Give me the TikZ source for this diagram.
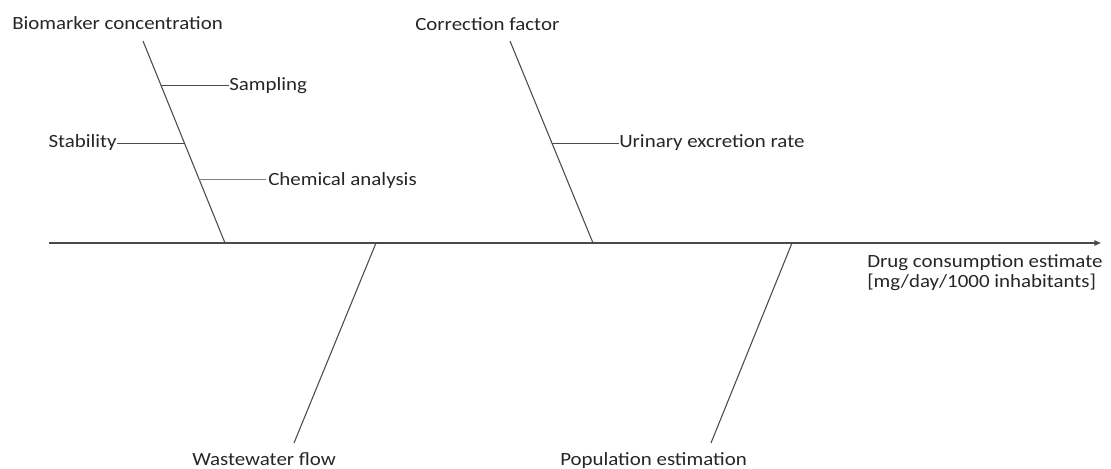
\documentclass[tikz,border=0pt]{standalone}
\usepackage{fontspec}
\setmainfont{Carlito}[FakeStretch=1.12]
\usetikzlibrary{arrows.meta,calc}
\definecolor{linegray}{HTML}{4A4A4A}
\definecolor{txt}{HTML}{262626}
\begin{document}
\begin{tikzpicture}[x=0.75pt,y=-0.75pt,
  lbl/.style={inner sep=0pt,text=txt,font=\fontsize{14}{15}\selectfont},
  bone/.style={draw=linegray,line width=0.8pt},
  sub/.style={draw=linegray,line width=0.7pt},
  spine/.style={draw=linegray,line width=1.1pt}]
\useasboundingbox (0,0) rectangle (1111,468);
% main spine
\coordinate (mstart) at (49,243);
\coordinate (mend) at (1101,243);
\draw[spine,-{Triangle[length=5pt,width=4pt]}] (mstart) -- (mend);
% labels
\node[lbl,anchor=base west] (bio) at (12,29) {Biomarker concentration};
\node[lbl,anchor=base west] (corr) at (415,30) {Correction factor};
\node[lbl,anchor=base west] (samp) at (229,90) {Sampling};
\node[lbl,anchor=base east] (stab) at (117,147) {Stability};
\node[lbl,anchor=base west] (chem) at (268,185) {Chemical analysis};
\node[lbl,anchor=base west] (urin) at (619,147) {Urinary excretion rate};
\node[lbl,anchor=base west] (waste) at (192,465) {Wastewater flow};
\node[lbl,anchor=base west] (pop) at (560,465) {Population estimation};
\node[lbl,anchor=base west,align=left] (drug) at (867,287) {Drug consumption estimate\\[0pt][mg/day/1000 inhabitants]};
% bones
\coordinate (b1t) at (143,41); \coordinate (b1b) at (225,243);
\coordinate (b2t) at (510,41); \coordinate (b2b) at (593,243);
\coordinate (b3t) at (376,243); \coordinate (b3b) at (294,443);
\coordinate (b4t) at (792,243); \coordinate (b4b) at (711,443);
\draw[bone] (b1t) -- (b1b);
\draw[bone] (b2t) -- (b2b);
\draw[bone] (b3t) -- (b3b);
\draw[bone] (b4t) -- (b4b);
% sub-branches
\coordinate (s1) at ($(b1t)!0.218!(b1b)$);
\coordinate (s2) at ($(b1t)!0.505!(b1b)$);
\coordinate (s3) at ($(b1t)!0.683!(b1b)$);
\coordinate (s4) at ($(b2t)!0.505!(b2b)$);
\draw[sub] (s1) -- (s1 -| samp.west);
\draw[sub] (s2) -- (s2 -| stab.east);
\draw[sub,draw=gray] (s3) -- ($(s3 -| chem.west)+(-2,0)$);
\draw[sub] (s4) -- (s4 -| urin.west);
\end{tikzpicture}
\end{document}
